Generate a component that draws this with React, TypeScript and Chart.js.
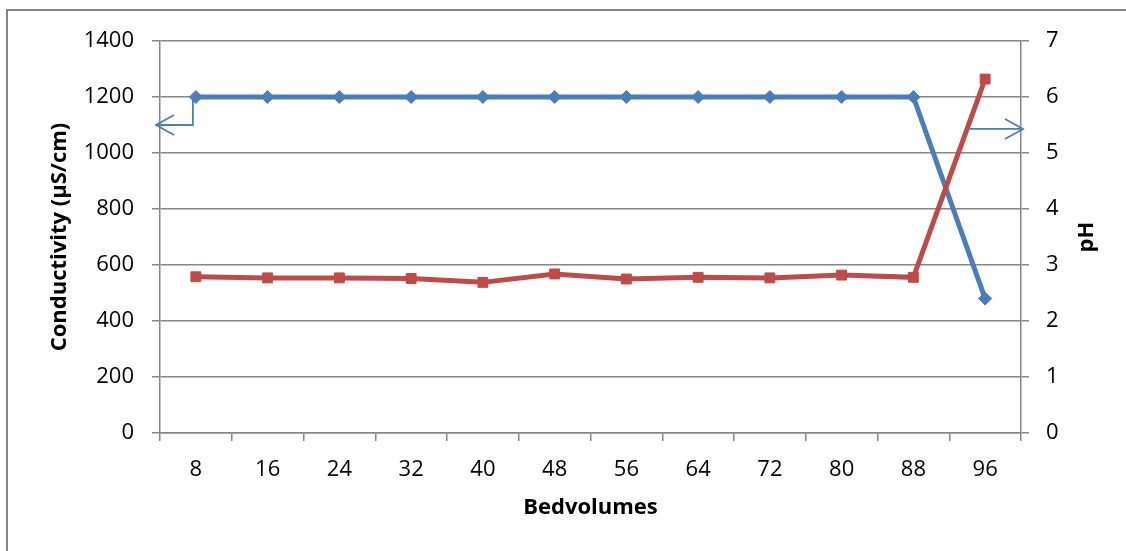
import React, { useEffect, useRef } from 'react';
import { Chart, registerables } from 'chart.js';

Chart.register(...registerables);

const bedvolumes = ['8', '16', '24', '32', '40', '48', '56', '64', '72', '80', '88', '96'];
const conductivity = [1200, 1200, 1200, 1200, 1200, 1200, 1200, 1200, 1200, 1200, 1200, 480];
const phValues = [2.79, 2.77, 2.77, 2.76, 2.69, 2.84, 2.75, 2.78, 2.77, 2.82, 2.78, 6.32];
const conductivityRange = [0, 1400, 200];
const phRange = [0, 7, 1];
const arrowConductivity = 1100;
const arrowPH = 5.43;

const FONT = '"Open Sans", sans-serif';
const BLUE = '#4a7ebb';
const RED = '#be4b48';
const GRAY = '#868686';

const decorPlugin = {
  id: 'decor',
  beforeDraw(chart: any) {
    const ctx = chart.ctx;
    ctx.save();
    ctx.fillStyle = '#ffffff';
    ctx.fillRect(0, 0, chart.width, chart.height);
    ctx.strokeStyle = GRAY;
    ctx.lineWidth = 2;
    ctx.beginPath();
    ctx.moveTo(7, chart.height + 5);
    ctx.lineTo(7, 10);
    ctx.lineTo(chart.width + 5, 10);
    ctx.stroke();
    ctx.restore();
  },
  afterDatasetsDraw(chart: any) {
    const ctx = chart.ctx;
    const xs = chart.scales.x;
    const yl = chart.scales.y;
    const yr = chart.scales.y1;
    const area = chart.chartArea;
    ctx.save();
    ctx.strokeStyle = BLUE;
    ctx.lineWidth = 1.8;
    // left arrow: from first conductivity point down, then to the left axis
    const x0 = xs.getPixelForValue(0) - 3;
    const yTop = yl.getPixelForValue(conductivity[0]);
    const yArr = yl.getPixelForValue(arrowConductivity);
    const tipL = area.left - 4;
    ctx.beginPath();
    ctx.moveTo(x0, yTop);
    ctx.lineTo(x0, yArr);
    ctx.lineTo(tipL, yArr);
    ctx.stroke();
    ctx.beginPath();
    ctx.moveTo(tipL + 18, yArr - 10);
    ctx.lineTo(tipL, yArr);
    ctx.lineTo(tipL + 18, yArr + 10);
    ctx.stroke();
    // right arrow: from the pH line to the right axis
    const n = phValues.length;
    const xa = xs.getPixelForValue(n - 2);
    const xb = xs.getPixelForValue(n - 1);
    const t = (arrowPH - phValues[n - 2]) / (phValues[n - 1] - phValues[n - 2]);
    const xStart = xa + (xb - xa) * t;
    const yR = yr.getPixelForValue(arrowPH);
    const tipR = area.right + 2;
    ctx.beginPath();
    ctx.moveTo(xStart, yR);
    ctx.lineTo(tipR, yR);
    ctx.stroke();
    ctx.beginPath();
    ctx.moveTo(tipR - 18, yR - 10);
    ctx.lineTo(tipR, yR);
    ctx.lineTo(tipR - 18, yR + 10);
    ctx.stroke();
    ctx.restore();
  },
  afterDraw(chart: any) {
    const ctx = chart.ctx;
    const area = chart.chartArea;
    ctx.save();
    ctx.fillStyle = '#000';
    ctx.font = `bold 22px ${FONT}`;
    ctx.textAlign = 'center';
    ctx.textBaseline = 'middle';
    ctx.translate(1087, (area.top + area.bottom) / 2);
    ctx.rotate(-Math.PI / 2);
    ctx.fillText('pH', 0, 0);
    ctx.restore();
  },
};

export default function App() {
  const canvasRef = useRef<HTMLCanvasElement | null>(null);

  useEffect(() => {
    const canvas = canvasRef.current;
    if (!canvas) return;
    const tickFont = { family: FONT, size: 22 };
    const titleFont = { family: FONT, size: 22, weight: 'bold' as const };
    const plain = (v: any) => String(v);
    const chart = new Chart(canvas, {
      type: 'line',
      data: {
        labels: bedvolumes,
        datasets: [
          {
            label: 'pH',
            data: phValues,
            yAxisID: 'y1',
            borderColor: RED,
            backgroundColor: RED,
            borderWidth: 5,
            pointStyle: 'rect',
            pointRadius: 7,
            pointBorderWidth: 1,
            pointBorderColor: RED,
            pointBackgroundColor: RED,
            tension: 0,
            order: 0,
          },
          {
            label: 'Conductivity',
            data: conductivity,
            yAxisID: 'y',
            borderColor: BLUE,
            backgroundColor: BLUE,
            borderWidth: 5,
            pointStyle: 'rectRot',
            pointRadius: 6.5,
            pointBorderWidth: 1,
            pointBorderColor: BLUE,
            pointBackgroundColor: BLUE,
            tension: 0,
            order: 1,
          },
        ],
      },
      options: {
        responsive: false,
        animation: false,
        devicePixelRatio: 1,
        layout: { padding: { top: 41, left: 0, right: 0, bottom: 0 } },
        plugins: {
          legend: { display: false },
          tooltip: { enabled: false },
        },
        scales: {
          x: {
            type: 'category',
            offset: true,
            grid: {
              display: true,
              drawOnChartArea: false,
              drawTicks: true,
              tickLength: 8,
              color: GRAY,
              lineWidth: 1.5,
              offset: true,
            },
            border: { color: GRAY, width: 1.5 },
            ticks: {
              font: tickFont,
              color: '#000',
              padding: 16,
              maxRotation: 0,
              autoSkip: false,
            },
            title: {
              display: true,
              text: 'Bedvolumes',
              font: titleFont,
              color: '#000',
              padding: { top: 0, bottom: 30 },
            },
            afterFit(s: any) {
              s.height = 118;
            },
          },
          y: {
            type: 'linear',
            position: 'left',
            min: conductivityRange[0],
            max: conductivityRange[1],
            grid: { color: GRAY, lineWidth: 1.5, tickLength: 8, drawTicks: true },
            border: { color: GRAY, width: 1.5 },
            ticks: {
              stepSize: conductivityRange[2],
              font: tickFont,
              color: '#000',
              padding: 18,
              callback: plain,
            },
            title: {
              display: true,
              text: 'Conductivity (µS/cm)',
              font: titleFont,
              color: '#000',
              padding: { top: 47, bottom: 0 },
            },
            afterFit(s: any) {
              s.width = 160;
            },
          },
          y1: {
            type: 'linear',
            position: 'right',
            min: phRange[0],
            max: phRange[1],
            grid: { drawOnChartArea: false, color: GRAY, lineWidth: 1.5, tickLength: 8, drawTicks: true },
            border: { color: GRAY, width: 1.5 },
            ticks: {
              stepSize: phRange[2],
              font: tickFont,
              color: '#000',
              padding: 17,
              callback: plain,
            },
            afterFit(s: any) {
              s.width = 105;
            },
          },
        },
      },
      plugins: [decorPlugin],
    });
    return () => chart.destroy();
  }, []);

  return (
    <div style={{ position: 'fixed', left: 0, top: 0, width: 1126, height: 551, background: '#fff' }}>
      <canvas ref={canvasRef} width={1126} height={551} style={{ display: 'block' }} />
    </div>
  );
}
